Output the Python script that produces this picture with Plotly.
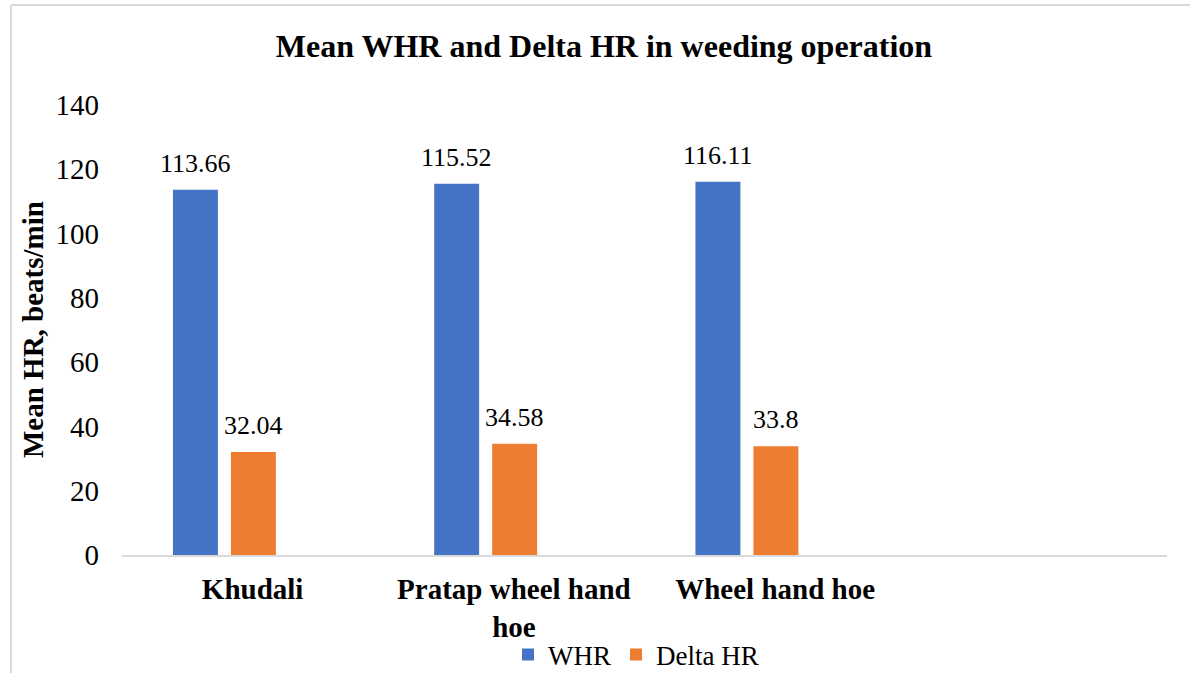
import plotly.graph_objects as go

categories = ["Khudali", "Pratap wheel hand hoe", "Wheel hand hoe"]
tick_labels = ["Khudali", "Pratap wheel hand<br>hoe", "Wheel hand hoe"]
series_names = ["WHR", "Delta HR"]
whr = [113.66, 115.52, 116.11]
delta_hr = [32.04, 34.58, 33.8]
y_ticks = [0, 20, 40, 60, 80, 100, 120, 140]

colors = ["#4472C4", "#ED7D31"]
offsets = [-0.305, -0.083]
bar_w = 0.172
FONT = "Liberation Serif"

x_idx = list(range(len(categories)))
fig = go.Figure()
annotations = []
for name, vals, col, off in zip(series_names, [whr, delta_hr], colors, offsets):
    fig.add_trace(go.Bar(
        x=x_idx, y=vals, name=name, marker=dict(color=col, line=dict(width=0)),
        offset=off, width=bar_w, hoverinfo="x+y",
    ))
    for xi, v in zip(x_idx, vals):
        annotations.append(dict(
            x=xi + off + bar_w / 2, y=v, xref="x", yref="y", text=f"{v:g}",
            showarrow=False, yanchor="bottom", yshift=10,
            font=dict(family=FONT, size=26, color="#000000"),
        ))

annotations.append(dict(
    text="<b>Mean HR, beats/min</b>", textangle=-90, xref="paper", yref="paper",
    x=0, y=0.5, xanchor="center", yanchor="middle", xshift=-89, showarrow=False,
    font=dict(family=FONT, size=29, color="#000000"),
))

fig.update_layout(
    width=1190, height=673,
    font=dict(family=FONT, color="#000000"),
    margin=dict(l=122, r=23, t=105, b=118, autoexpand=False),
    paper_bgcolor="#FFFFFF", plot_bgcolor="#FFFFFF",
    title=dict(text="<b>Mean WHR and Delta HR in weeding operation</b>",
               x=604 / 1190, xref="container", xanchor="center",
               y=1 - 46 / 673, yref="container", yanchor="middle",
               font=dict(family=FONT, size=32, color="#000000")),
    xaxis=dict(range=[-0.5, 3.5], tickvals=x_idx, ticktext=tick_labels,
               showgrid=False, zeroline=False, showline=True, linecolor="#D9D9D9",
               linewidth=2, ticks="", ticklabelstandoff=7, automargin=False,
               tickfont=dict(family=FONT, size=29, color="#000000", weight="bold")),
    yaxis=dict(range=[0, 140], tickvals=y_ticks, showgrid=False, zeroline=False,
               showline=False, ticks="", ticklabelstandoff=22, automargin=False,
               tickfont=dict(family=FONT, size=29, color="#000000")),
    legend=dict(orientation="h", x=636 / 1190, xref="container", xanchor="center",
                y=1 - 655 / 673, yref="container", yanchor="middle",
                font=dict(family=FONT, size=27, color="#000000"),
                itemwidth=30, tracegroupgap=0, bgcolor="rgba(0,0,0,0)"),
    annotations=annotations,
    showlegend=True,
    shapes=[
        dict(type="line", xref="paper", yref="paper", x0=-111 / 1045, x1=-111 / 1045,
             y0=(555 - 680) / 450, y1=(555 - 5) / 450, line=dict(color="#D9D9D9", width=2)),
        dict(type="line", xref="paper", yref="paper", x0=-111 / 1045, x1=(1200 - 122) / 1045,
             y0=(555 - 5) / 450, y1=(555 - 5) / 450, line=dict(color="#D9D9D9", width=2)),
    ],
)

fig.write_html("out.html")
